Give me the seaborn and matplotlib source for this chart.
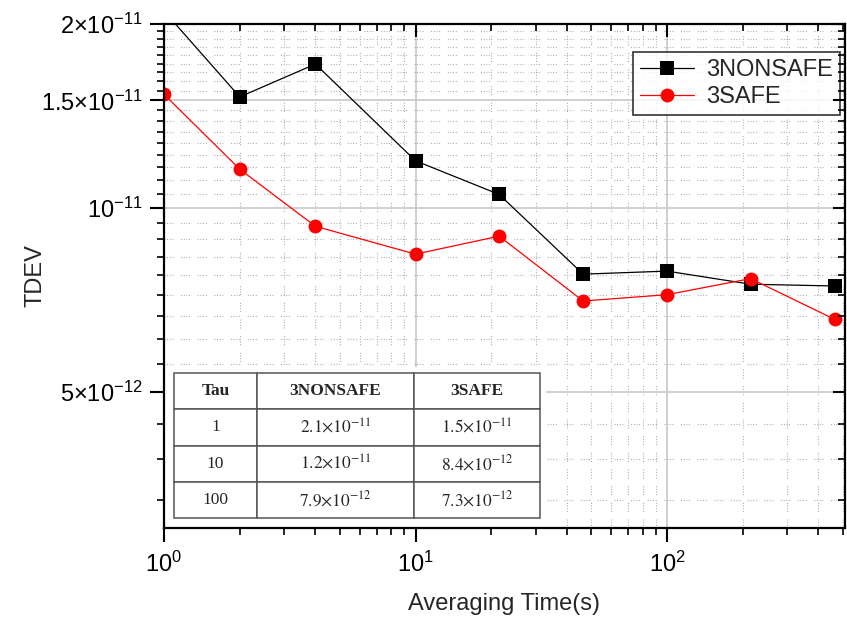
import numpy as np
import pandas as pd
import matplotlib
matplotlib.use("Agg")
import matplotlib.pyplot as plt
import matplotlib.ticker as mticker
from matplotlib.patches import Rectangle
import seaborn as sns

# averaging time (s)
tau = [1, 2, 4, 10, 21.5, 46.4, 100, 215, 464]
# TDEV values
tdev_nonsafe = [2.1e-11, 1.52e-11, 1.72e-11, 1.195e-11, 1.053e-11, 7.8e-12, 7.89e-12, 7.51e-12, 7.46e-12]
tdev_safe = [1.535e-11, 1.158e-11, 9.34e-12, 8.41e-12, 9.0e-12, 7.05e-12, 7.22e-12, 7.67e-12, 6.58e-12]
series_names = ["3NONSAFE", "3SAFE"]

# inset table
table_tau = [1, 10, 100]
table_nonsafe = [(2.1, -11), (1.2, -11), (7.9, -12)]
table_safe = [(1.5, -11), (8.4, -12), (7.3, -12)]

y_major = [5e-12, 1e-11, 1.5e-11, 2e-11]
y_major_labels = [r"$\mathdefault{5{\times}10^{-12}}$", r"$\mathdefault{10^{-11}}$",
                  r"$\mathdefault{1.5{\times}10^{-11}}$", r"$\mathdefault{2{\times}10^{-11}}$"]

sns.set_style("ticks")
plt.rcParams["font.family"] = ["Liberation Sans", "DejaVu Sans"]
plt.rcParams["mathtext.fontset"] = "custom"
plt.rcParams["mathtext.rm"] = "Liberation Sans"

df = pd.DataFrame({
    "tau": tau * 2,
    "tdev": tdev_nonsafe + tdev_safe,
    "series": [series_names[0]] * len(tau) + [series_names[1]] * len(tau),
})

fig = plt.figure(figsize=(8.47, 6.21), dpi=100)
ax = fig.add_axes([164 / 847, 1 - 528 / 621, 681 / 847, 504 / 621])

sns.lineplot(data=df, x="tau", y="tdev", hue="series", style="series",
             markers={"3NONSAFE": "s", "3SAFE": "o"}, dashes=False,
             palette={"3NONSAFE": "black", "3SAFE": "#ff0000"},
             markersize=10, markeredgewidth=0, linewidth=0.9, sort=False, ax=ax)

ax.set_xscale("log")
ax.set_yscale("log")
ax.set_xlim(1, 510)
ax.set_ylim(3e-12, 2e-11)

# Origin-style minor ticks: 8 linear steps between the labelled values
y_minor = [float(v) for v in (5e-12 + np.arange(-3, 28) * 5e-12 / 9)
           if not np.any(np.isclose(v, y_major, rtol=1e-6, atol=0))]


def set_ticks(a):
    a.xaxis.set_major_locator(mticker.LogLocator(base=10, numticks=10))
    a.xaxis.set_minor_locator(mticker.LogLocator(base=10, subs=np.arange(2, 10), numticks=10))
    a.xaxis.set_minor_formatter(mticker.NullFormatter())
    a.yaxis.set_major_locator(mticker.FixedLocator(y_major))
    a.yaxis.set_minor_locator(mticker.FixedLocator(y_minor))
    a.yaxis.set_minor_formatter(mticker.NullFormatter())


set_ticks(ax)
ax.yaxis.set_major_formatter(mticker.FixedFormatter(y_major_labels))

# outward ticks bottom/left
ax.tick_params(which="both", bottom=True, left=True, top=False, right=False,
               direction="out", color="black")
ax.tick_params(which="major", length=10, width=1.5, labelsize=17, labelcolor="black")
ax.tick_params(which="minor", length=5, width=1.2)
ax.tick_params(axis="x", which="major", pad=7)
ax.tick_params(axis="y", which="major", pad=5)

# inward ticks top/right on a transparent overlay axes
ov = fig.add_axes(ax.get_position(), facecolor="none", zorder=ax.get_zorder() + 1)
ov.set_xscale("log")
ov.set_yscale("log")
ov.set_xlim(ax.get_xlim())
ov.set_ylim(ax.get_ylim())
set_ticks(ov)
ov.xaxis.set_major_formatter(mticker.NullFormatter())
ov.yaxis.set_major_formatter(mticker.NullFormatter())
ov.tick_params(which="both", bottom=False, left=False, top=True, right=True,
               labelbottom=False, labelleft=False, direction="in", color="black")
ov.tick_params(which="major", length=9, width=1.5)
ov.tick_params(which="minor", length=5, width=1.2)
for s in ov.spines.values():
    s.set_visible(False)
ov.grid(False)

for s in ax.spines.values():
    s.set_color("black")
    s.set_linewidth(1.6)

# grids
ax.set_axisbelow(True)
ax.grid(True, which="major", color="#c8c8c8", linewidth=1.2, linestyle="-")
ax.grid(True, which="minor", color="#a0a0a0", linewidth=0.8,
        linestyle=(0, (0.8, 1.6, 0.8, 1.6, 0.8, 1.6, 0.8, 7)))

ax.set_xlabel("Averaging Time(s)", fontsize=17, labelpad=12)
ax.set_ylabel("TDEV", fontsize=17)
ax.yaxis.set_label_coords(-0.172, 0.5)

leg = ax.legend(loc="upper right", bbox_to_anchor=(0.993, 0.944), borderaxespad=0,
                fontsize=17, frameon=True, fancybox=False, handlelength=2.3,
                handletextpad=0.5, borderpad=0.3, labelspacing=0.2)
leg.get_frame().set_edgecolor("black")
leg.get_frame().set_linewidth(1.2)
leg.set_title(None)

# inset table on white background
ax.add_patch(Rectangle((0.002, 0.0), 0.559, 0.319, transform=ax.transAxes,
                       facecolor="white", edgecolor="none", zorder=1.5))


def sci(m, e):
    return r"$%.1f{\times}10^{%d}$" % (m, e)


cell_text = [[str(t), sci(*a), sci(*b)] for t, a, b in zip(table_tau, table_nonsafe, table_safe)]
tbl = ax.table(cellText=cell_text, colLabels=["Tau", series_names[0], series_names[1]],
               cellLoc="center", colWidths=[0.227, 0.429, 0.344],
               bbox=[0.0147, 0.0198, 0.5374, 0.2877], zorder=3)
tbl.auto_set_font_size(False)
for (r, c), cell in tbl.get_celld().items():
    cell.set_edgecolor("#555555")
    cell.set_linewidth(1.1)
    txt = cell.get_text()
    txt.set_fontfamily("Liberation Serif")
    txt.set_math_fontfamily("stix")
    txt.set_fontsize(12.5)
    if r == 0:
        txt.set_fontweight("bold")

fig.savefig("out.png", dpi=100)
